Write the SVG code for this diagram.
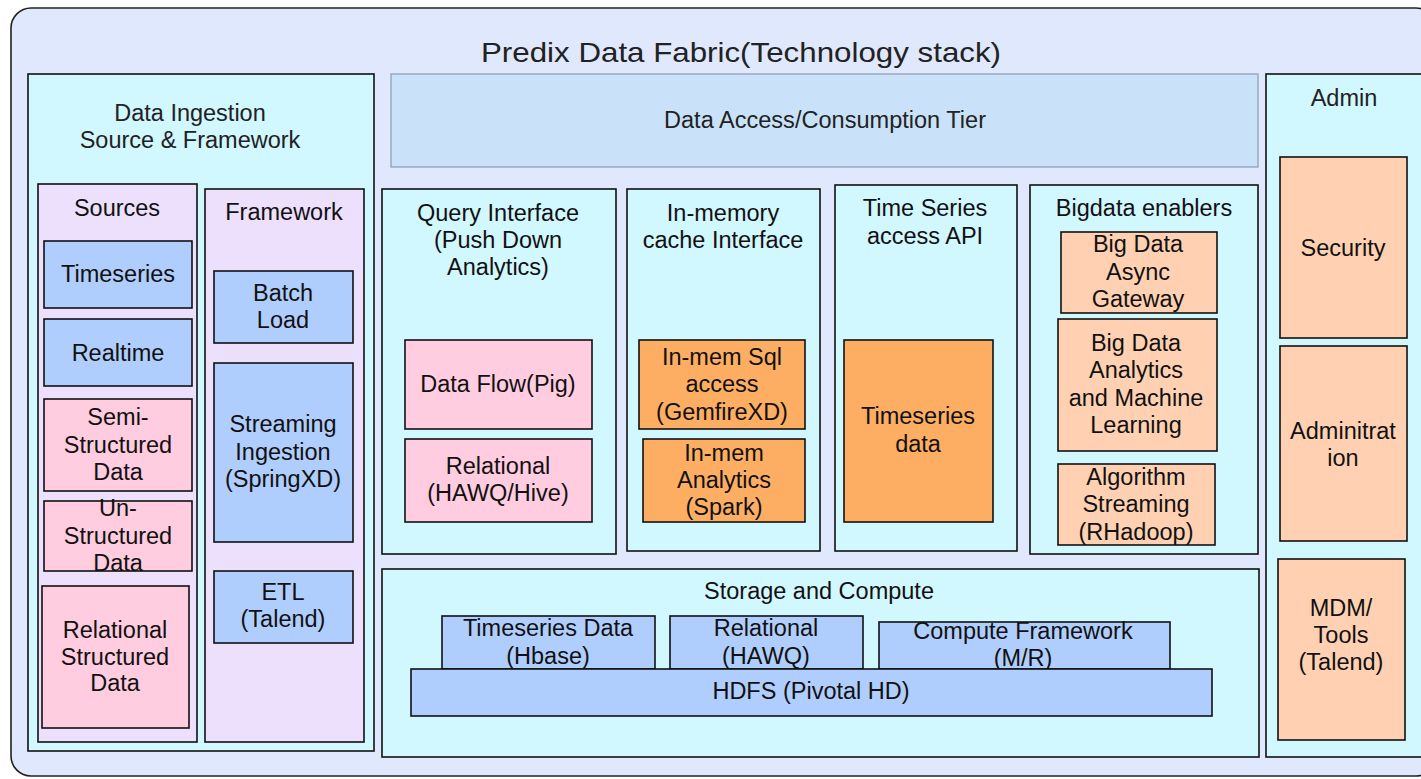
<svg xmlns="http://www.w3.org/2000/svg" width="1421" height="779" viewBox="0 0 1421 779">
<style>
text{font-family:"Liberation Sans",Arial,sans-serif;font-size:23.5px;fill:#111;text-anchor:middle}
.thin{font-size:23.5px;fill:#222}
.title{font-size:28px;fill:#222}
.panel{fill:#d1f7ff;stroke:#111;stroke-width:1.6}
.lav{fill:#ece0fd;stroke:#111;stroke-width:1.6}
.blue{fill:#b0cefd;stroke:#111;stroke-width:1.6}
.pink{fill:#ffcce0;stroke:#111;stroke-width:1.6}
.orange{fill:#fdae63;stroke:#111;stroke-width:1.6}
.peach{fill:#ffd1b2;stroke:#111;stroke-width:1.6}
.tier{fill:#c9e2fa;stroke:#8a9bb0;stroke-width:1.2}
</style>
<rect width="1421" height="779" fill="#ffffff"/>
<g id="fabric">
<rect x="11" y="8" width="1425" height="768" rx="20" fill="#dfe8fd" stroke="#222" stroke-width="1.6"/>
<text class="title" x="741" y="62" textLength="520" lengthAdjust="spacingAndGlyphs">Predix Data Fabric(Technology stack)</text>
</g>
<g id="ingestion">
<rect class="panel" x="28" y="74" width="346" height="677"/>
<text class="thin" x="190" y="121">Data Ingestion</text>
<text class="thin" x="190" y="148">Source &amp; Framework</text>
</g>
<g id="sources">
<rect class="lav" x="38" y="184" width="159" height="558"/>
<text x="117" y="216">Sources</text>
</g>
<g id="framework">
<rect class="lav" x="205" y="189" width="159" height="553"/>
<text x="284" y="220">Framework</text>
</g>
<g id="src-timeseries"><rect class="blue" x="44" y="241" width="148" height="67"/><text x="118" y="282">Timeseries</text></g>
<g id="src-realtime"><rect class="blue" x="44" y="319" width="148" height="67"/><text x="118" y="361">Realtime</text></g>
<g id="src-semi"><rect class="pink" x="44" y="399" width="148" height="92"/><text x="118" y="425">Semi-</text><text x="118" y="453">Structured</text><text x="118" y="480">Data</text></g>
<g id="src-un"><rect class="pink" x="44" y="501" width="148" height="70"/><text x="118" y="516">Un-</text><text x="118" y="544">Structured</text><text x="118" y="571">Data</text></g>
<g id="src-relational"><rect class="pink" x="42" y="586" width="147" height="142"/><text x="115" y="638">Relational</text><text x="115" y="665">Structured</text><text x="115" y="691">Data</text></g>
<g id="fw-batch"><rect class="blue" x="214" y="271" width="139" height="72"/><text x="283" y="301">Batch</text><text x="283" y="328">Load</text></g>
<g id="fw-streaming"><rect class="blue" x="214" y="363" width="139" height="179"/><text x="283" y="432">Streaming</text><text x="283" y="460">Ingestion</text><text x="283" y="487">(SpringXD)</text></g>
<g id="fw-etl"><rect class="blue" x="214" y="571" width="139" height="72"/><text x="283" y="600">ETL</text><text x="283" y="627">(Talend)</text></g>
<g id="access-tier"><rect class="tier" x="391" y="74" width="867" height="93"/><text class="thin" x="825" y="128" textLength="322" lengthAdjust="spacingAndGlyphs">Data Access/Consumption Tier</text></g>
<g id="query">
<rect class="panel" x="382" y="189" width="234" height="365"/>
<text x="498" y="221">Query Interface</text><text x="498" y="248">(Push Down</text><text x="498" y="275">Analytics)</text>
</g>
<g id="q-pig"><rect class="pink" x="405" y="340" width="187" height="89"/><text x="498" y="392">Data Flow(Pig)</text></g>
<g id="q-rel"><rect class="pink" x="405" y="439" width="187" height="83"/><text x="498" y="474">Relational</text><text x="498" y="501">(HAWQ/Hive)</text></g>
<g id="inmem">
<rect class="panel" x="627" y="189" width="193" height="362"/>
<text x="723" y="221">In-memory</text><text x="723" y="248">cache Interface</text>
</g>
<g id="im-sql"><rect class="orange" x="639" y="340" width="166" height="89"/><text x="722" y="365">In-mem Sql</text><text x="722" y="392">access</text><text x="722" y="420">(GemfireXD)</text></g>
<g id="im-spark"><rect class="orange" x="643" y="439" width="162" height="83"/><text x="724" y="461">In-mem</text><text x="724" y="488">Analytics</text><text x="724" y="515">(Spark)</text></g>
<g id="timeseries-api">
<rect class="panel" x="835" y="185" width="182" height="366"/>
<text x="925" y="216">Time Series</text><text x="925" y="244">access API</text>
</g>
<g id="ts-data"><rect class="orange" x="844" y="340" width="149" height="182"/><text x="918" y="424">Timeseries</text><text x="918" y="452">data</text></g>
<g id="bigdata">
<rect class="panel" x="1030" y="185" width="228" height="369"/>
<text x="1144" y="216">Bigdata enablers</text>
</g>
<g id="bd-gateway"><rect class="peach" x="1061" y="232" width="156" height="81"/><text x="1138" y="252">Big Data</text><text x="1138" y="280">Async</text><text x="1138" y="307">Gateway</text></g>
<g id="bd-ml"><rect class="peach" x="1058" y="319" width="159" height="132"/><text x="1136" y="351">Big Data</text><text x="1136" y="378">Analytics</text><text x="1136" y="406">and Machine</text><text x="1136" y="433">Learning</text></g>
<g id="bd-algo"><rect class="peach" x="1058" y="464" width="157" height="81"/><text x="1136" y="485">Algorithm</text><text x="1136" y="512">Streaming</text><text x="1136" y="540">(RHadoop)</text></g>
<g id="storage">
<rect class="panel" x="382" y="569" width="877" height="188"/>
<text x="819" y="599">Storage and Compute</text>
</g>
<g id="st-hbase"><rect class="blue" x="442" y="616" width="213" height="53"/><text x="548" y="636">Timeseries Data</text><text x="548" y="664">(Hbase)</text></g>
<g id="st-hawq"><rect class="blue" x="670" y="616" width="193" height="53"/><text x="766" y="636">Relational</text><text x="766" y="664">(HAWQ)</text></g>
<g id="st-mr"><rect class="blue" x="879" y="622" width="291" height="47"/><text x="1023" y="639">Compute Framework</text><text x="1023" y="666">(M/R)</text></g>
<g id="st-hdfs"><rect class="blue" x="411" y="669" width="801" height="47"/><text x="811" y="699">HDFS (Pivotal HD)</text></g>
<g id="admin">
<rect class="panel" x="1266" y="74" width="170" height="683"/>
<text class="thin" x="1344" y="106">Admin</text>
</g>
<g id="ad-security"><rect class="peach" x="1280" y="157" width="127" height="181"/><text x="1343" y="256">Security</text></g>
<g id="ad-admin"><rect class="peach" x="1280" y="346" width="127" height="195"/><text x="1343" y="439">Adminitrat</text><text x="1343" y="466">ion</text></g>
<g id="ad-mdm"><rect class="peach" x="1278" y="559" width="127" height="181"/><text x="1341" y="616">MDM/</text><text x="1341" y="643">Tools</text><text x="1341" y="670">(Talend)</text></g>
<g id="connectors"></g>
</svg>
